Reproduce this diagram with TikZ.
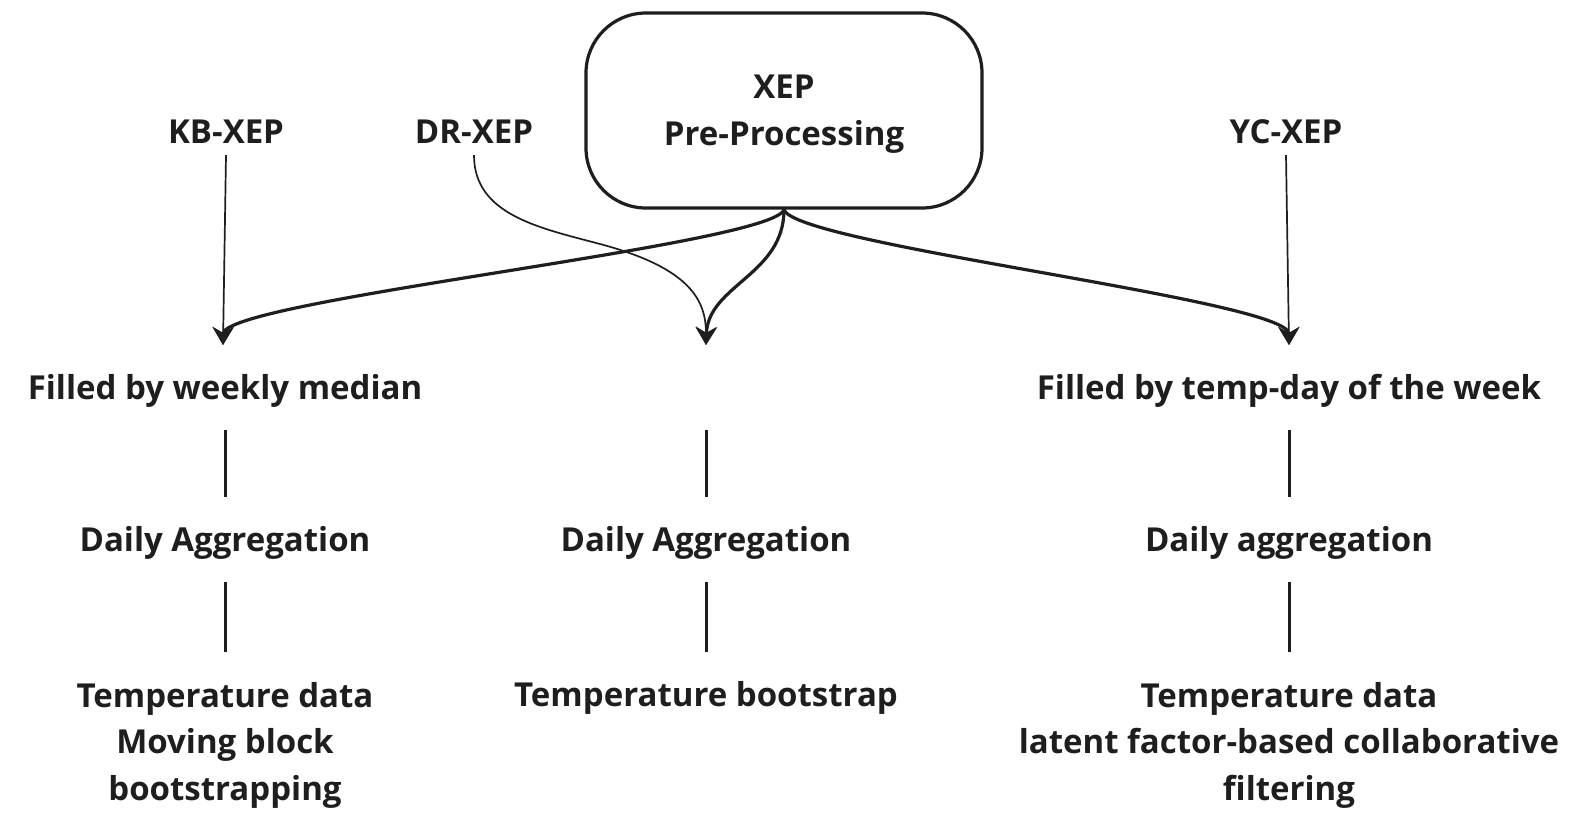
\documentclass[tikz,border=0pt]{standalone}
\usepackage{fontspec}
\setmainfont{Open Sans}
\usetikzlibrary{arrows.meta}
\definecolor{ink}{HTML}{1E1E1E}
\begin{document}
\begin{tikzpicture}[x=1pt,y=-1pt,
  lbl/.style={font=\fontsize{33}{46.6}\selectfont\bfseries, text=ink, inner sep=0pt, text height=24pt, text depth=7pt},
  toplbl/.style={lbl, inner ysep=5pt},
  multi/.style={font=\fontsize{33}{46.6}\selectfont\bfseries, text=ink, inner sep=0pt, align=center, anchor=north},
  boxnode/.style={draw=ink, line width=3.2pt, rounded corners=60pt, minimum width=396pt, minimum height=195pt, align=center, font=\fontsize{33}{47}\selectfont\bfseries, text=ink, text depth=0pt},
  tip/.style={-{Stealth[length=18pt,width=21pt,inset=6pt]}},
  thickarrow/.style={ink, line width=3.2pt, tip},
  thinarrow/.style={ink, line width=1.7pt, tip},
  stub/.style={ink, line width=3pt},
]
\useasboundingbox[fill=white] (0,0) rectangle (1589,828);

\node[boxnode] (XEP) at (784,110.5) {XEP\\Pre-Processing};
\node[toplbl] (KB) at (226,134.5) {KB-XEP};
\node[toplbl] (DR) at (474,134.5) {DR-XEP};
\node[toplbl] (YC) at (1286,134.5) {YC-XEP};

\coordinate (tipL) at (223,345);
\coordinate (tipM) at (706,345);
\coordinate (tipR) at (1289,345);
\coordinate (m0) at (706,430);

\node[lbl] (F1) at (225,391) {Filled by weekly median};
\node[lbl] (F3) at (1289,391) {Filled by temp-day of the week};
\node[lbl] (D1) at (225,543) {Daily Aggregation};
\node[lbl] (D2) at (706,543) {Daily Aggregation};
\node[lbl] (D3) at (1289,543) {Daily aggregation};
\node[multi] (T1) at (225,682) {Temperature data\\Moving block\\bootstrapping};
\node[lbl] (T2) at (706,698) {Temperature bootstrap};
\node[multi] (T3) at (1289,682) {Temperature data\\latent factor-based collaborative\\filtering};

\draw[thickarrow] (XEP.south) .. controls (772,245) and (223,300) .. (tipL);
\draw[thickarrow] (XEP.south) .. controls (784,275) and (708,285) .. (tipM);
\draw[thickarrow] (XEP.south) .. controls (795,245) and (1289,300) .. (tipR);
\draw[thinarrow] (DR.south) .. controls (474,215) and (540,228) .. (600,244) .. controls (690,268) and (706,300) .. (tipM);
\draw[thinarrow] (KB.south) -- (tipL);
\draw[thinarrow] (YC.south) -- (tipR);

\draw[stub, shorten <=23.5pt, shorten >=30.5pt] (F1) -- (D1);
\draw[stub, shorten <=23.5pt, shorten >=30pt] (D1) -- (T1);
\draw[stub, shorten >=30.5pt] (m0) -- (D2);
\draw[stub, shorten <=23.5pt, shorten >=30.5pt] (D2) -- (T2);
\draw[stub, shorten <=23.5pt, shorten >=30.5pt] (F3) -- (D3);
\draw[stub, shorten <=23.5pt, shorten >=30pt] (D3) -- (T3);
\end{tikzpicture}
\end{document}
